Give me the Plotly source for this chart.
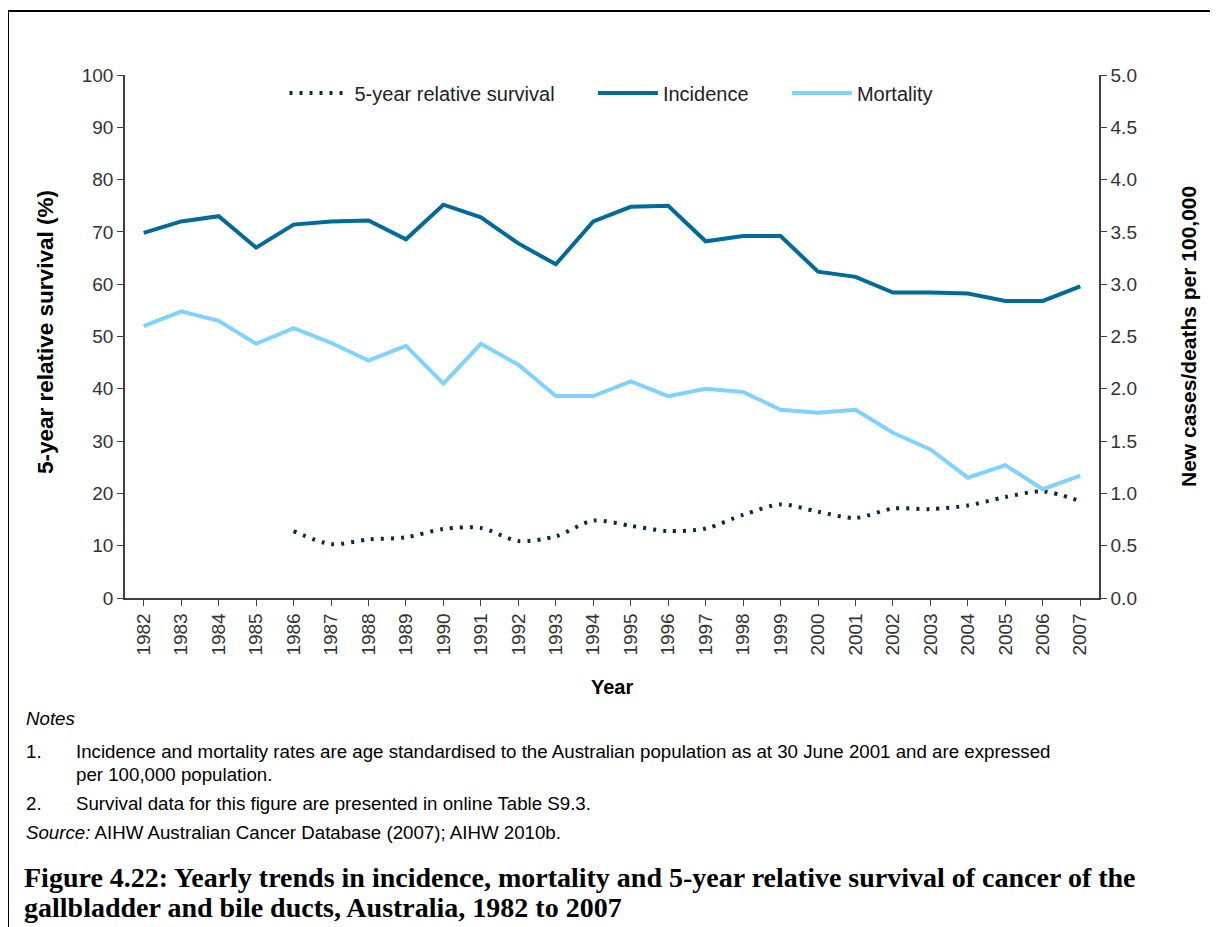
import plotly.graph_objects as go

years = [str(y) for y in range(1982, 2008)]

# rates per 100,000 (right axis)
incidence = [3.49, 3.60, 3.65, 3.35, 3.57, 3.60, 3.61, 3.43, 3.76, 3.64, 3.39, 3.19, 3.60,
             3.74, 3.75, 3.41, 3.46, 3.46, 3.12, 3.07, 2.92, 2.92, 2.91, 2.84, 2.84, 2.98]
mortality = [2.60, 2.74, 2.65, 2.43, 2.58, 2.44, 2.27, 2.41, 2.05, 2.43, 2.23, 1.93, 1.93,
             2.07, 1.93, 2.00, 1.97, 1.80, 1.77, 1.80, 1.58, 1.42, 1.15, 1.27, 1.04, 1.17]

# 5-year relative survival (%), left axis, from 1986
survival_years = [str(y) for y in range(1986, 2008)]
survival = [12.8, 10.3, 11.2, 11.6, 13.2, 13.4, 10.9, 11.8, 14.8, 13.8, 12.8, 13.3, 15.9,
            17.9, 16.5, 15.3, 17.1, 17.0, 17.7, 19.3, 20.4, 18.5]

W, H = 1218, 927
OFF = 8  # page body margin
L, R, T, B = 125 - OFF, 1099 - OFF, 75 - OFF, 598 - OFF


def px(x):
    return (x - OFF - L) / (R - L)


def py(y):
    return (B - (y - OFF)) / (B - T)


pad = '\u00a0' * 6  # extra gap between legend entries

fig = go.Figure()

fig.add_trace(go.Scatter(
    x=survival_years, y=survival, mode='lines', name='5-year relative survival' + pad,
    line=dict(color='#0b2a40', width=4, dash='3px,7px', shape='spline', smoothing=0.8),
    yaxis='y'
))
fig.add_trace(go.Scatter(
    x=years, y=incidence, mode='lines', name='Incidence' + pad,
    line=dict(color='#006a99', width=4), yaxis='y2'
))
fig.add_trace(go.Scatter(
    x=years, y=mortality, mode='lines', name='Mortality',
    line=dict(color='#80d2ff', width=4), yaxis='y2'
))

axis_font = dict(family='Liberation Sans, Arial', size=19, color='#333333')

fig.update_layout(
    width=W, height=H,
    margin=dict(l=L, r=W - R, t=T, b=H - B),
    paper_bgcolor='white', plot_bgcolor='white',
    showlegend=True,
    legend=dict(orientation='h', x=px(611), y=py(93), xanchor='center', yanchor='middle',
                font=dict(family='Liberation Sans, Arial', size=20, color='#222222'),
                bgcolor='rgba(0,0,0,0)', itemwidth=60),
    xaxis=dict(type='category', categoryorder='array', categoryarray=years,
               range=[-0.5, 25.5], showline=True, linecolor='#404040', linewidth=1.5,
               ticks='outside', ticklen=6, tickcolor='#404040', tickangle=-90,
               tickfont=axis_font, showgrid=False, zeroline=False),
    yaxis=dict(range=[0, 100], dtick=10, showline=True, linecolor='#404040', linewidth=1.5,
               ticks='outside', ticklen=6, tickcolor='#404040', tickfont=axis_font,
               showgrid=False, zeroline=False),
    yaxis2=dict(range=[0, 5], dtick=0.5, tickformat='.1f', overlaying='y', side='right',
                showline=True, linecolor='#404040', linewidth=1.5, ticks='outside',
                ticklen=6, tickcolor='#404040', tickfont=axis_font,
                showgrid=False, zeroline=False),
)

# outer frame
fig.add_shape(type='rect', xref='paper', yref='paper',
              x0=px(8), x1=px(1240), y0=py(11), y1=py(950),
              line=dict(color='black', width=2))

note_font = dict(family='Liberation Sans, Arial', size=18.7, color='black')
cap_font = dict(family='Liberation Serif, Times New Roman', size=28, color='black')


def note(text, x, y, font, anchor='left', angle=0):
    fig.add_annotation(text=text, xref='paper', yref='paper', x=px(x), y=py(y),
                       xanchor=anchor, yanchor='middle', showarrow=False,
                       font=font, textangle=angle)


note('<b>Year</b>', 612, 687, dict(family='Liberation Sans, Arial', size=20, color='black'),
     anchor='center')
note('<b>5-year relative survival (%)</b>', 45, 332,
     dict(family='Liberation Sans, Arial', size=22.5, color='black'), anchor='center', angle=-90)
note('<b>New cases/deaths per 100,000</b>', 1188, 337,
     dict(family='Liberation Sans, Arial', size=21, color='black'), anchor='center', angle=-90)

note('<i>Notes</i>', 24, 718, note_font)
note('1.', 24, 751, note_font)
note('Incidence and mortality rates are age standardised to the Australian population as at 30 June 2001 and are expressed',
     74, 751, note_font)
note('per 100,000 population.', 74, 774, note_font)
note('2.', 24, 803, note_font)
note('Survival data for this figure are presented in online Table S9.3.', 74, 803, note_font)
note('<i>Source:</i> AIHW Australian Cancer Database (2007); AIHW 2010b.', 24, 832, note_font)

note('<b>Figure 4.22: Yearly trends in incidence, mortality and 5-year relative survival of cancer of the</b>',
     22, 877, cap_font)
note('<b>gallbladder and bile ducts, Australia, 1982 to 2007</b>', 22, 907, cap_font)

fig.write_html("out.html")
